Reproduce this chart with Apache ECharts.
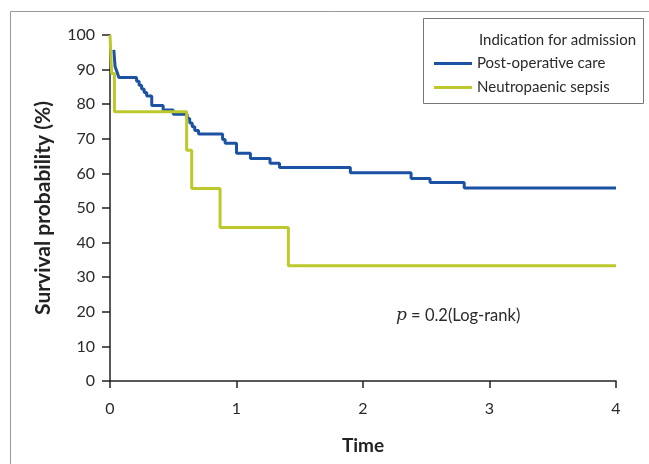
<!DOCTYPE html>
<html>
<head>
<meta charset="utf-8">
<script src="https://cdn.jsdelivr.net/npm/echarts@6/dist/echarts.min.js"></script>
<style>
  html, body { margin: 0; padding: 0; background: #fff; }
  #chart { width: 649px; height: 464px; }
</style>
</head>
<body>
<div id="chart"></div>
<script>
// Kaplan-Meier steps (time, survival %)
var postOpTime = [0.03, 0.04, 0.055, 0.07, 0.21, 0.23, 0.25, 0.27, 0.29, 0.31, 0.33, 0.42, 0.50, 0.61, 0.63, 0.65, 0.67, 0.70, 0.89, 0.91, 1.00, 1.11, 1.265, 1.34, 1.90, 2.38, 2.53, 2.80, 4.0];
var postOpSurv = [95.7, 90.9, 89.4, 87.7, 86.6, 85.5, 84.4, 83.4, 82.4, 82.4, 79.6, 78.3, 77.1, 75.9, 74.6, 73.5, 72.4, 71.4, 69.8, 68.7, 65.8, 64.3, 62.9, 61.7, 60.2, 58.5, 57.4, 55.8, 55.8];

var sepsisTime = [0, 0.013, 0.035, 0.606, 0.646, 0.87, 1.41, 4.0];
var sepsisSurv = [100, 88.9, 77.8, 66.7, 55.6, 44.4, 33.3, 33.3];

var seriesNames = ['Post-operative care', 'Neutropaenic sepsis'];
var xTicks = [0, 4, 1];
var yTicks = [0, 100, 10];

function pairs(t, s) {
    var out = [];
    for (var i = 0; i < t.length; i++) out.push([t[i], s[i]]);
    return out;
}

var font = 'Lato';
var myChart = echarts.init(document.getElementById('chart'));

var option = {
    animation: false,
    textStyle: { fontFamily: font },
    grid: { left: 110, right: 33, top: 35, bottom: 83 },
    legend: {
        orient: 'vertical',
        left: 429,
        top: 51,
        icon: 'rect',
        itemWidth: 38,
        itemHeight: 3,
        itemGap: 9,
        data: seriesNames,
        textStyle: { fontFamily: font, fontSize: 15, color: '#2a2a2a' }
    },
    xAxis: {
        type: 'value',
        min: xTicks[0], max: xTicks[1], interval: xTicks[2],
        name: 'Time',
        nameLocation: 'middle',
        nameGap: 55,
        nameTextStyle: { fontFamily: font, fontSize: 19, fontWeight: 'bold', color: '#222' },
        axisLine: { lineStyle: { color: '#222', width: 1.5 } },
        axisTick: { show: true, length: 7, lineStyle: { color: '#222', width: 1.5 } },
        axisLabel: { margin: 20, fontSize: 16, color: '#2a2a2a' },
        splitLine: { show: false }
    },
    yAxis: {
        type: 'value',
        min: yTicks[0], max: yTicks[1], interval: yTicks[2],
        name: 'Survival probability (%)',
        nameLocation: 'middle',
        nameGap: 56,
        nameTextStyle: { fontFamily: font, fontSize: 21, fontWeight: 'bold', color: '#222' },
        axisLine: { show: true, lineStyle: { color: '#222', width: 1.5 } },
        axisTick: { show: true, length: 8, lineStyle: { color: '#222', width: 1.5 } },
        axisLabel: { margin: 15, fontSize: 16, color: '#2a2a2a' },
        splitLine: { show: false }
    },
    series: [
        {
            name: seriesNames[0],
            type: 'line',
            step: 'end',
            showSymbol: false,
            color: '#1b52a3',
            lineStyle: { width: 3, color: '#1b52a3' },
            data: pairs(postOpTime, postOpSurv)
        },
        {
            name: seriesNames[1],
            type: 'line',
            step: 'end',
            showSymbol: false,
            color: '#bcc82c',
            lineStyle: { width: 3, color: '#bcc82c' },
            data: pairs(sepsisTime, sepsisSurv)
        }
    ],
    graphic: [
        { type: 'rect', shape: { x: 10.5, y: 11.5, width: 700, height: 500 }, style: { fill: null, stroke: '#999', lineWidth: 1 }, silent: true },
        { type: 'rect', shape: { x: 423.5, y: 18.5, width: 220, height: 85 }, style: { fill: '#fff', stroke: '#777', lineWidth: 1 }, z: -1, silent: true },
        { type: 'text', x: 479, y: 40, style: { text: 'Indication for admission', fontFamily: font, fontSize: 15, fill: '#2a2a2a', verticalAlign: 'middle' } },
        {
            type: 'text', x: 396, y: 316,
            style: {
                text: '{i|p} = 0.2(Log-rank)',
                fontFamily: font, fontSize: 16.5, fill: '#2a2a2a', verticalAlign: 'middle',
                rich: { i: { fontFamily: 'DejaVu Serif', fontStyle: 'italic', fontSize: 17, fill: '#2a2a2a' } }
            }
        }
    ]
};
myChart.setOption(option);
</script>
</body>
</html>
